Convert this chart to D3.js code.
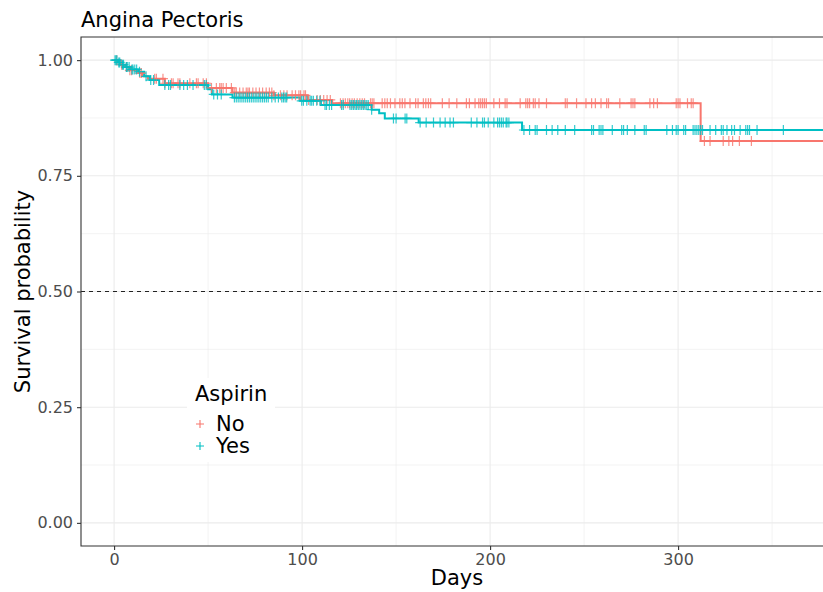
<!DOCTYPE html>
<html>
<head>
<meta charset="utf-8">
<script src="https://cdn.jsdelivr.net/npm/d3@7"></script>
<style>
  body { margin: 0; background: #fff; }
  text { font-family: "DejaVu Sans", sans-serif; }
</style>
</head>
<body>
<div id="chart"></div>
<script>
// step curves (day of drop, survival after drop)
const noTimes = [0, 3, 5, 8, 13, 15, 18, 27, 50, 63, 85, 103, 116, 312];
const noSurv = [1, 0.99, 0.985, 0.978, 0.972, 0.965, 0.96, 0.95, 0.94, 0.93, 0.924, 0.914, 0.907, 0.825];
const yesTimes = [0, 2, 4, 6, 9, 13, 16, 19, 24, 50, 52, 63, 99, 110, 137, 141, 144, 162, 217];
const yesSurv = [1, 0.995, 0.99, 0.985, 0.98, 0.975, 0.965, 0.957, 0.946, 0.937, 0.926, 0.919, 0.912, 0.903, 0.893, 0.885, 0.874, 0.865, 0.849];

// censored observations (days)
const noCensor = [1.4, 4, 6.6, 8.4, 9.3, 13.7, 14.5, 21.6, 22.5, 26, 27, 30.5, 31.4, 34, 35, 40.3, 43.8, 44.7, 47.4, 49.1,
  51.8, 54.4, 56.2, 57, 58, 59.7, 62.4, 64.2, 65, 66.8, 68.6, 70.3, 71.2, 72, 73.8, 75.5, 77.3, 79, 80.9, 82.6,
  83.9, 85, 88.5, 90.3, 92, 94.7, 96.5, 98.3, 99.2, 101, 101.8, 103.5, 108, 109.7, 111.5, 113.3, 115, 120.4, 121.8, 123,
  124.3, 125.3, 126.6, 127.8, 129.3, 130.7, 132, 133.2, 136.4, 137.3, 138.2, 142.6, 144, 145.3, 147, 149.4, 152, 153.3,
  154.7, 157.4, 160.4, 161.7, 164.5, 165.8, 167.2, 168.4, 174.6, 178.2, 182.3, 187.4, 189, 192, 194, 195, 196, 197, 198,
  202, 205, 208, 209, 216, 219, 220, 221, 223, 224, 226, 230, 240, 241, 246, 251, 254, 256, 259, 262, 263, 269, 275, 276,
  277, 285, 287, 289, 299, 300, 301, 305, 307, 308, 314, 317, 324, 327, 329, 332.6, 339];
const yesCensor = [0.5, 1, 1.5, 2.5, 3, 4.5, 5, 6.5, 7, 8, 9.5, 10, 11, 12, 13.5, 17, 19.5, 21, 27, 29, 30, 35, 37, 39, 42,
  48, 49, 53, 55, 57, 64, 65, 66, 67, 68, 69, 70, 71, 72, 73, 74, 75, 76, 77, 78, 79, 80, 81, 82,
  83.9, 85.7, 87.4, 89.2, 90.1, 91, 91.8, 99.8, 100.7, 102.5, 104.3, 105.1, 106, 107.8, 109.5, 112.2, 113, 114.5, 115.7,
  121, 121.9, 125.5, 126.4, 127.3, 128.2, 129, 129.9, 130.8, 131.7, 132.6, 133.5, 134.4, 135.2, 137, 148.6, 150, 154.8,
  155.7, 162.8, 166, 169.9, 173.4, 176.1, 178.7, 180.5, 190, 193, 196, 197, 199, 202, 204, 205, 206, 207, 208.5, 209,
  210, 218, 221, 224, 225, 230, 233, 236, 240, 245, 254, 255, 258, 259, 260, 265, 270, 271, 273, 277, 282, 283,
  294, 297, 299, 300, 303, 304, 308, 309, 310, 311, 312, 313, 317, 320, 323, 324, 326, 328.5, 330, 333, 336, 337, 338,
  342, 356];
const followUpEnd = 382;

const groups = ["No", "Yes"];
const colors = ["#F8766D", "#00BFC4"];
const xTicks = [0, 100, 200, 300];
const yTicks = [0, 0.25, 0.5, 0.75, 1];

const width = 823, height = 592;
const panel = { left: 81, top: 37, right: 833, bottom: 546 };

const x = d3.scaleLinear().domain([-17.6, 382.4]).range([panel.left, panel.right]);
const y = d3.scaleLinear().domain([-0.05, 1.05]).range([panel.bottom, panel.top]);

const svg = d3.select("#chart").append("svg")
  .attr("width", width).attr("height", height);

svg.append("defs").append("clipPath").attr("id", "clip")
  .append("rect")
  .attr("x", panel.left).attr("y", panel.top)
  .attr("width", panel.right - panel.left).attr("height", panel.bottom - panel.top);

// grid
const grid = svg.append("g");
const minorX = xTicks.map(d => d + 50);
const minorY = [0.125, 0.375, 0.625, 0.875];
grid.selectAll(".mx").data(minorX).join("line")
  .attr("x1", d => x(d)).attr("x2", d => x(d))
  .attr("y1", panel.top).attr("y2", panel.bottom)
  .attr("stroke", "#ebebeb").attr("stroke-width", 0.6);
grid.selectAll(".my").data(minorY).join("line")
  .attr("x1", panel.left).attr("x2", panel.right)
  .attr("y1", d => y(d)).attr("y2", d => y(d))
  .attr("stroke", "#ebebeb").attr("stroke-width", 0.6);
grid.selectAll(".gx").data(xTicks).join("line")
  .attr("x1", d => x(d)).attr("x2", d => x(d))
  .attr("y1", panel.top).attr("y2", panel.bottom)
  .attr("stroke", "#ebebeb").attr("stroke-width", 1.1);
grid.selectAll(".gy").data(yTicks).join("line")
  .attr("x1", panel.left).attr("x2", panel.right)
  .attr("y1", d => y(d)).attr("y2", d => y(d))
  .attr("stroke", "#ebebeb").attr("stroke-width", 1.1);

// median line
svg.append("line")
  .attr("x1", panel.left).attr("x2", panel.right)
  .attr("y1", y(0.5)).attr("y2", y(0.5))
  .attr("stroke", "#222").attr("stroke-width", 1)
  .attr("stroke-dasharray", "4,4");

const curves = [
  { times: noTimes, surv: noSurv, censor: noCensor },
  { times: yesTimes, surv: yesSurv, censor: yesCensor }
];

const line = d3.line().x(d => x(d[0])).y(d => y(d[1])).curve(d3.curveStepAfter);
const plot = svg.append("g").attr("clip-path", "url(#clip)");

function survAt(c, t) {
  const i = d3.bisectRight(c.times, t) - 1;
  return c.surv[Math.max(i, 0)];
}

curves.forEach((c, gi) => {
  const pts = c.times.map((t, i) => [t, c.surv[i]]);
  pts.push([followUpEnd, c.surv[c.surv.length - 1]]);
  plot.append("path")
    .attr("d", line(pts))
    .attr("fill", "none")
    .attr("stroke", colors[gi])
    .attr("stroke-width", 2);
});

curves.forEach((c, gi) => {
  plot.append("g").selectAll("path").data(c.censor).join("path")
    .attr("d", d => {
      const cx = x(d), cy = y(survAt(c, d));
      return `M${cx - 5},${cy}H${cx + 5}M${cx},${cy - 5}V${cy + 5}`;
    })
    .attr("stroke", colors[gi])
    .attr("stroke-width", 1.2)
    .attr("opacity", 0.8);
});

// panel border (left, top, bottom)
svg.append("path")
  .attr("d", `M${panel.right},${panel.top}H${panel.left}V${panel.bottom}H${panel.right}`)
  .attr("fill", "none").attr("stroke", "#333").attr("stroke-width", 1.1);

// axes
const xAxis = svg.append("g").attr("transform", `translate(0,${panel.bottom})`)
  .call(d3.axisBottom(x).tickValues(xTicks).tickSize(4).tickPadding(4).tickFormat(d3.format("d")));
const yAxis = svg.append("g").attr("transform", `translate(${panel.left},0)`)
  .call(d3.axisLeft(y).tickValues(yTicks).tickSize(4).tickPadding(4).tickFormat(d3.format(".2f")));
[xAxis, yAxis].forEach(a => {
  a.select(".domain").remove();
  a.selectAll(".tick line").attr("stroke", "#333").attr("stroke-width", 1.1);
  a.selectAll(".tick text").attr("fill", "#4d4d4d").style("font-size", "16px")
    .style("font-family", "DejaVu Sans, sans-serif");
});

// titles
svg.append("text").attr("x", 81).attr("y", 27)
  .style("font-size", "21px").attr("fill", "#000").text("Angina Pectoris");
svg.append("text").attr("x", (panel.left + panel.right) / 2).attr("y", 585)
  .attr("text-anchor", "middle").style("font-size", "21px").text("Days");
svg.append("text")
  .attr("transform", `translate(30,${(panel.top + panel.bottom) / 2}) rotate(-90)`)
  .attr("text-anchor", "middle").style("font-size", "21px").text("Survival probability");

// legend
const legend = svg.append("g").attr("transform", "translate(187,378)");
legend.append("rect").attr("width", 88).attr("height", 84).attr("fill", "#fff");
legend.append("text").attr("x", 8).attr("y", 23).style("font-size", "21px").text("Aspirin");
groups.forEach((g, i) => {
  const ky = 46 + i * 22;
  legend.append("path")
    .attr("d", `M${9},${ky}H${17}M${13},${ky - 4}V${ky + 4}`)
    .attr("stroke", colors[i]).attr("stroke-width", 1.1);
  legend.append("text").attr("x", 29).attr("y", ky + 7)
    .style("font-size", "21px").text(g);
});
</script>
</body>
</html>
